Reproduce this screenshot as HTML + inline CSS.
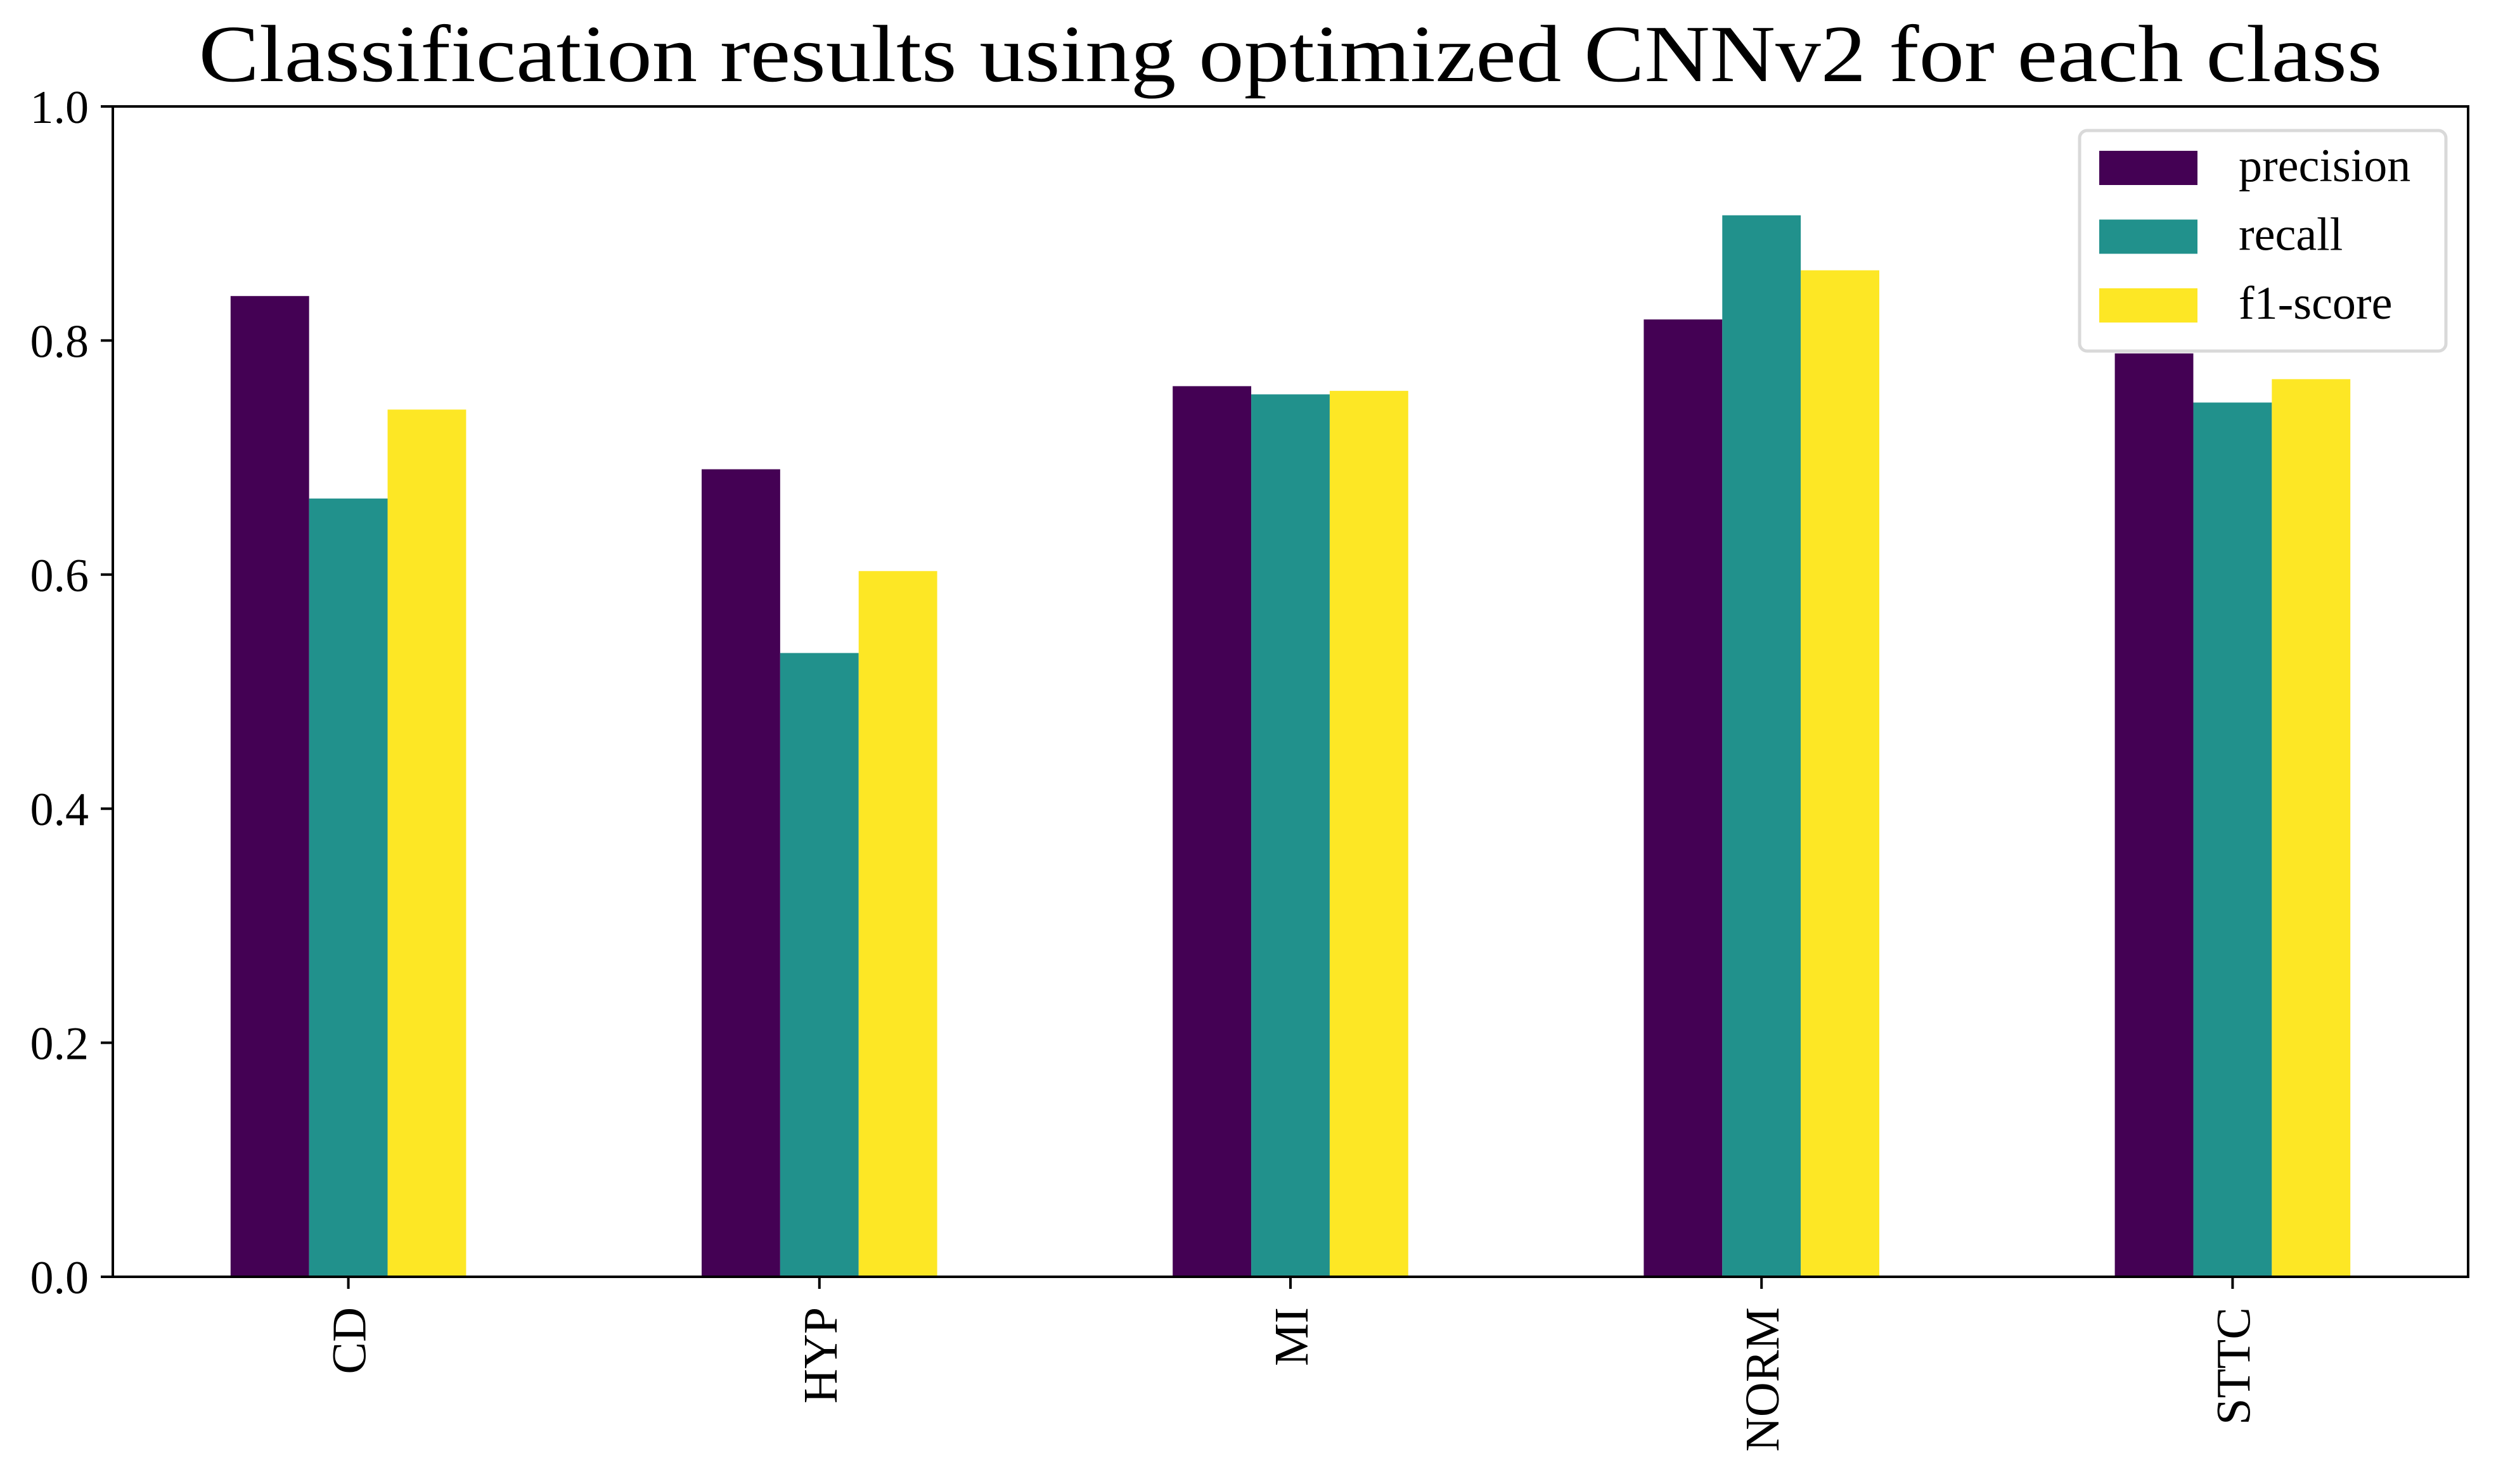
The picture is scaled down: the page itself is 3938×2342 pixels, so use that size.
<!DOCTYPE html>
<html><head><meta charset="utf-8"><style>
html,body{margin:0;padding:0;background:#fff;}
svg{display:block;font-family:"Liberation Serif","DejaVu Serif",serif;}
</style></head><body>
<svg id="chart" width="3938" height="2342" viewBox="0 0 3938 2342" xmlns="http://www.w3.org/2000/svg">
<rect x="0" y="0" width="3938" height="2342" fill="#fff"/>
<text x="2036" y="128" font-size="128" text-anchor="middle" textLength="3445" lengthAdjust="spacingAndGlyphs">Classification results using optimized CNNv2 for each class</text>
<g id="bars"></g>
<g id="axes"></g>
</svg>
<script>
const categories = ["CD","HYP","MI","NORM","STTC"];
const seriesNames = ["precision","recall","f1-score"];
const precision = [0.838,0.690,0.761,0.818,0.789];
const recall = [0.665,0.533,0.754,0.907,0.747];
const f1score = [0.741,0.603,0.757,0.860,0.767];
const yTicks = [0.0,0.2,0.4,0.6,0.8,1.0];
const yTickLabels = ["0.0","0.2","0.4","0.6","0.8","1.0"];

const NS="http://www.w3.org/2000/svg";
const colors=["#440154","#21918c","#fde725"];
const L=178,R=3894,T=168,B=2015;
const unit=(R-L)/categories.length;
function xPos(i){return L+unit*(i+0.5);}
function yPos(v){return B-(B-T)*v;}
function mk(tag,attrs,parent){const e=document.createElementNS(NS,tag);for(const k in attrs)e.setAttribute(k,attrs[k]);parent.appendChild(e);return e;}
const bars=document.getElementById('bars'),axes=document.getElementById('axes');
const series=[precision,recall,f1score];
const bw=unit*0.5/3;
series.forEach((vals,s)=>{
  vals.forEach((v,i)=>{
    const x=xPos(i)-unit*0.25+s*bw;
    const r=mk('rect',{x:x,y:yPos(v),width:bw,height:B-yPos(v),fill:colors[s]},bars);
    
    
  });
});
const frame=mk('rect',{x:L,y:T,width:R-L,height:B-T,fill:'none',stroke:'#000','stroke-width':4},axes);


yTicks.forEach((v,i)=>{
  const y=yPos(v);
  const t=mk('line',{x1:L-19,x2:L,y1:y,y2:y,stroke:'#000','stroke-width':4},axes);
  
  
  const lb=mk('text',{x:L-38,y:y+26,'font-size':74,'text-anchor':'end'},axes);
  lb.textContent=yTickLabels[i];
  
  
});
categories.forEach((c,i)=>{
  const x=xPos(i);
  const t=mk('line',{x1:x,x2:x,y1:B,y2:B+19,stroke:'#000','stroke-width':4},axes);
  
  
  const lb=mk('text',{x:0,y:0,'font-size':76,'text-anchor':'end',transform:'translate('+(x+27)+','+(B+48)+') rotate(-90)'},axes);
  lb.textContent=c;
  
  
});
const lg=mk('g',{},axes);


mk('rect',{x:3281,y:206,width:578,height:348,rx:12,fill:'#fff',stroke:'#d9d9d9','stroke-width':5},lg);
seriesNames.forEach((n,s)=>{
  const y=238+s*108.5;
  const p=mk('rect',{x:3312,y:y,width:155,height:54,fill:colors[s]},lg);
  
  
  const tx=mk('text',{x:3532,y:y+48,'font-size':74},lg);
  tx.textContent=n;
  
  
});
</script>
</body></html>
